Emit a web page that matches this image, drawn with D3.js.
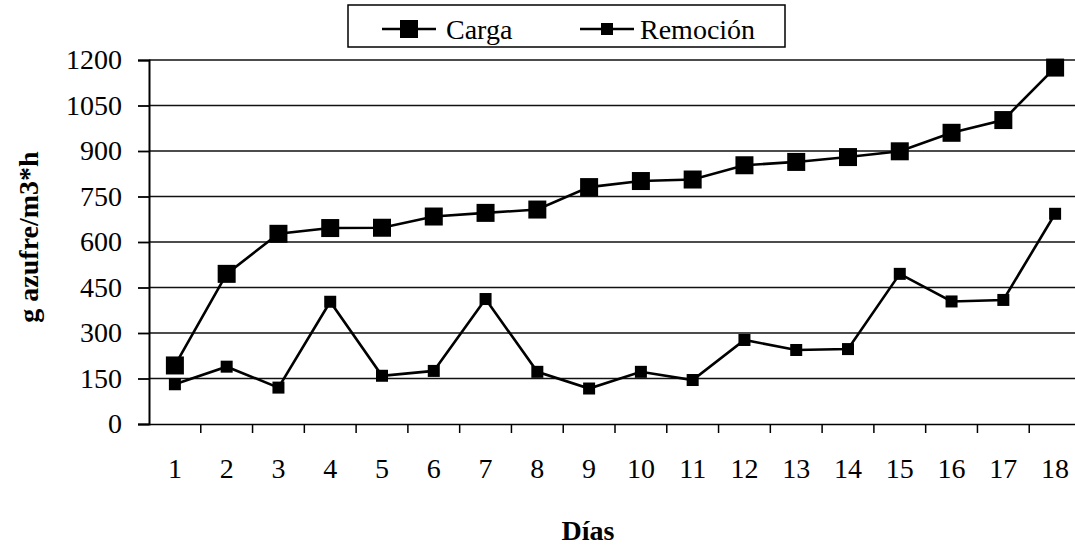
<!DOCTYPE html>
<html><head><meta charset="utf-8">
<script src="https://cdn.jsdelivr.net/npm/d3@7"></script>
<style>body{margin:0;background:#fff}svg{display:block}</style>
</head><body>
<svg id="c" width="1075" height="550"></svg>
<script>
const days = [1,2,3,4,5,6,7,8,9,10,11,12,13,14,15,16,17,18];
const carga = [193,495,627,646,647,684,696,707,781,801,806,853,864,880,899,960,1002,1175];
const remocion = [131,189,120,403,159,175,412,172,117,172,145,277,244,247,495,404,409,693];
const yTicks = [0,150,300,450,600,750,900,1050,1200];
const seriesNames = ["Carga","Remoción"];

const svg = d3.select("#c");
const font = "'Liberation Serif','Times New Roman',serif";
const x = d3.scaleBand().domain(days).range([149,1081]).padding(0);
const y = d3.scaleLinear().domain([0,1200]).range([424,60]);

// gridlines
svg.append("g").selectAll("line").data(yTicks.filter(d=>d>0)).join("line")
  .attr("x1",149).attr("x2",1075).attr("y1",d=>y(d)).attr("y2",d=>y(d))
  .attr("stroke","#111").attr("stroke-width",1.6);

// y axis
const ya = svg.append("g").attr("transform","translate(149,0)")
  .call(d3.axisLeft(y).tickValues(yTicks).tickFormat(d3.format("d")).tickSize(11).tickPadding(16));
ya.select(".domain").attr("stroke","#000").attr("stroke-width",2);
ya.selectAll(".tick line").attr("stroke","#000").attr("stroke-width",1.8);
ya.selectAll("text").attr("font-family",font).attr("font-size",28).attr("fill","#000");

// x axis
const xa = svg.append("g").attr("transform","translate(0,424)")
  .call(d3.axisBottom(x).tickSize(0).tickPadding(34));
xa.select(".domain").attr("stroke","#000").attr("stroke-width",1.6);
xa.selectAll("text").attr("font-family",font).attr("font-size",28).attr("fill","#000");
svg.append("g").selectAll("line").data(days.slice(1)).join("line")
  .attr("x1",d=>x(d)).attr("x2",d=>x(d)).attr("y1",424).attr("y2",433)
  .attr("stroke","#000").attr("stroke-width",1.5);

const cx = d => x(d) + x.bandwidth()/2;
const line = d3.line().x((v,i)=>cx(days[i])).y(v=>y(v));

function drawSeries(vals, size){
  svg.append("path").datum(vals).attr("d",line).attr("fill","none")
    .attr("stroke","#000").attr("stroke-width",2.6);
  svg.append("g").selectAll("rect").data(vals).join("rect")
    .attr("x",(v,i)=>cx(days[i])-size/2).attr("y",v=>y(v)-size/2)
    .attr("width",size).attr("height",size).attr("fill","#000");
}
drawSeries(remocion,12);
drawSeries(carga,18);

// legend
const lg = svg.append("g");
lg.append("rect").attr("x",348).attr("y",5).attr("width",437).attr("height",42)
  .attr("fill","#fff").attr("stroke","#000").attr("stroke-width",1.5);
const items = [{name:seriesNames[0],x0:382,size:18,tx:446},{name:seriesNames[1],x0:580,size:12,tx:640}];
items.forEach(it=>{
  lg.append("line").attr("x1",it.x0).attr("x2",it.x0+54).attr("y1",29).attr("y2",29)
    .attr("stroke","#000").attr("stroke-width",2.6);
  lg.append("rect").attr("x",it.x0+27-it.size/2).attr("y",29-it.size/2)
    .attr("width",it.size).attr("height",it.size).attr("fill","#000");
  lg.append("text").attr("x",it.tx).attr("y",39).text(it.name)
    .attr("font-family",font).attr("font-size",28).attr("fill","#000");
});

// axis titles
svg.append("text").attr("transform","translate(38,237) rotate(-90)")
  .attr("text-anchor","middle").text("g azufre/m3*h")
  .attr("font-family",font).attr("font-weight","bold").attr("font-size",28).attr("fill","#000");
svg.append("text").attr("x",588).attr("y",540).attr("text-anchor","middle").text("Días")
  .attr("font-family",font).attr("font-weight","bold").attr("font-size",28).attr("fill","#000");
</script>
</body></html>
